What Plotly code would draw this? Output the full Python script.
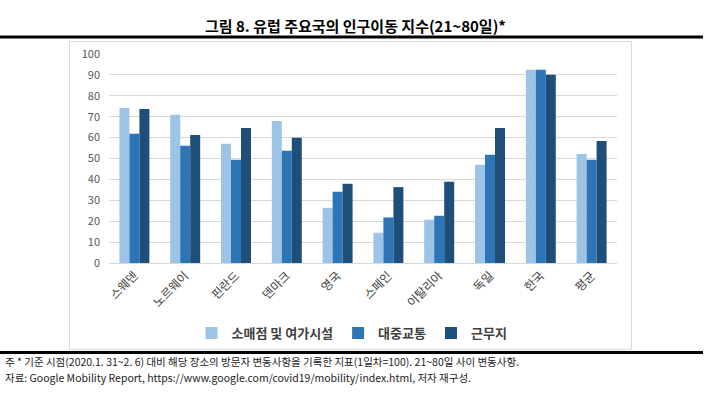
import plotly.graph_objects as go

categories = ["스웨덴", "노르웨이", "핀란드", "덴마크", "영국", "스페인", "이탈리아", "독일", "한국", "평균"]
retail = [74.2, 70.9, 57.0, 68.0, 26.4, 14.5, 20.7, 47.0, 92.5, 52.2]
transit = [61.8, 56.1, 49.4, 53.7, 34.1, 21.8, 22.6, 51.8, 92.5, 49.4]
workplace = [73.7, 61.3, 64.6, 59.9, 37.9, 36.3, 38.9, 64.6, 90.1, 58.4]
series_names = ["소매점 및 여가시설", "대중교통", "근무지"]
colors = ["#9DC3E6", "#2E75B6", "#1F4E79"]
y_ticks = [0, 10, 20, 30, 40, 50, 60, 70, 80, 90, 100]

W, H = 711, 395
L, R, T, B = 109, 617, 54, 263

def px(x):
    return (x - L) / (R - L)

def py(y):
    return (B - y) / (B - T)

FONT = "Noto Sans CJK KR"

fig = go.Figure()
for name, vals, c in zip(series_names, [retail, transit, workplace], colors):
    fig.add_trace(go.Bar(x=categories, y=vals, name=name, marker=dict(color=c, line=dict(width=0))))

note1 = "주 * 기준 시점(2020.1. 31~2. 6) 대비 해당 장소의 방문자 변동사항을 기록한 지표(1일차=100). 21~80일 사이 변동사항."
note2 = "자료: Google Mobility Report, https://www.google.com/covid19/mobility/index.html, 저자 재구성."

fig.update_layout(
    width=W, height=H,
    margin=dict(l=L, r=W - R, t=T, b=H - B),
    paper_bgcolor="white", plot_bgcolor="white",
    barmode="group", bargap=0.41, bargroupgap=0,
    font=dict(family=FONT, size=11, color="#595959"),
    showlegend=True,
    legend=dict(orientation="h", x=px(352), xanchor="center", y=py(333), yanchor="middle",
                font=dict(family=FONT, size=13, color="#404040", weight="bold"),
                itemwidth=30, tracegroupgap=0),
    xaxis=dict(tickangle=-45, showgrid=False, showline=True, linecolor="#d9d9d9", linewidth=1,
               ticks="", tickfont=dict(family=FONT, size=12, color="#404040"), fixedrange=True),
    yaxis=dict(range=[0, 100], tickvals=y_ticks, showgrid=True, gridcolor="#d9d9d9", gridwidth=1,
               zeroline=False, showline=False, ticks="", ticklabelstandoff=8,
               tickfont=dict(family=FONT, size=11, color="#595959"), fixedrange=True),
    shapes=[
        dict(type="rect", xref="paper", yref="paper", x0=px(69.5), x1=px(631.5), y0=py(349.5), y1=py(41.5),
             line=dict(color="#d9d9d9", width=1), fillcolor="rgba(0,0,0,0)", layer="below"),
        dict(type="line", xref="paper", yref="paper", x0=px(0), x1=px(703), y0=py(37), y1=py(37),
             line=dict(color="black", width=3)),
        dict(type="line", xref="paper", yref="paper", x0=px(0), x1=px(703), y0=py(352.5), y1=py(352.5),
             line=dict(color="black", width=3)),
    ],
    annotations=[
        dict(text="그림 8. 유럽 주요국의 인구이동 지수(21~80일)*", xref="paper", yref="paper",
             x=px(355), y=py(26), xanchor="center", yanchor="middle", showarrow=False,
             font=dict(family=FONT, size=15, color="black", weight="bold")),
        dict(text=note1, xref="paper", yref="paper", x=px(3), y=py(361.5), xanchor="left", yanchor="middle",
             showarrow=False, font=dict(family=FONT, size=10.5, color="#222222")),
        dict(text=note2, xref="paper", yref="paper", x=px(3), y=py(377.5), xanchor="left", yanchor="middle",
             showarrow=False, font=dict(family=FONT, size=10.5, color="#222222")),
    ],
)

fig.write_html("out.html", post_script="document.body.style.margin='0px';",
               config={"displayModeBar": False})
